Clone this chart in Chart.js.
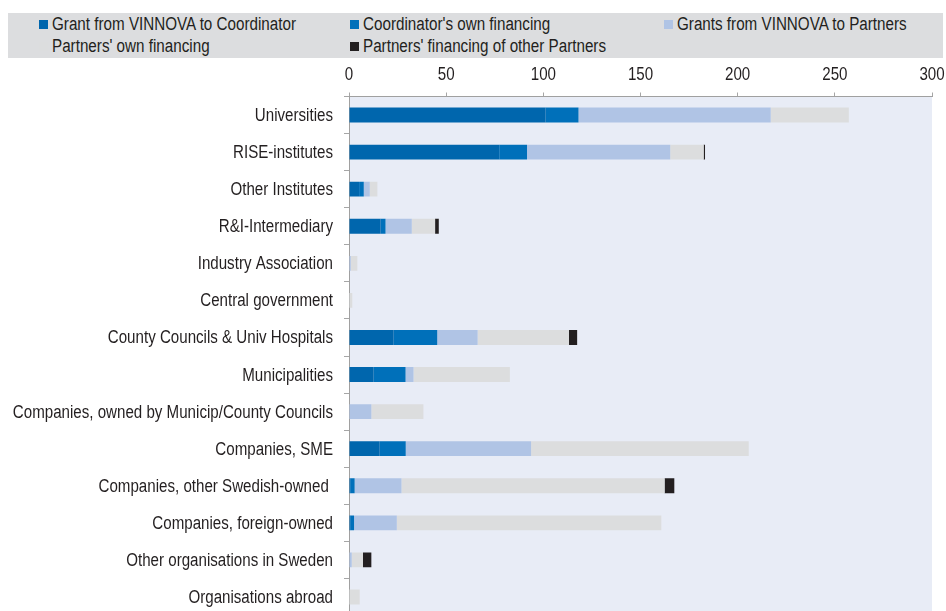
<!DOCTYPE html>
<html>
<head>
<meta charset="utf-8">
<script src="https://cdn.jsdelivr.net/npm/chart.js@4/dist/chart.umd.min.js"></script>
<style>
  html, body { margin: 0; padding: 0; background: #fff; overflow: hidden; }
  #wrap { position: relative; width: 946px; height: 611px; }
  #chart { position: absolute; left: 0; top: 0; }
  #legend {
    position: absolute; left: 8px; top: 13px; width: 935px; height: 45px;
    background: #DCDDDF;
    font-family: "Liberation Sans", Arial, sans-serif;
    font-size: 18px; color: #231F20;
  }
  .item { position: absolute; white-space: nowrap; line-height: 20px; height: 20px; }
  .item i { position: absolute; left: 0; top: 6px; width: 9px; height: 9px; }
  /* narrow face is not installed, so squeeze the regular one */
  .item span {
    position: absolute; left: 13px; top: 0;
    display: inline-block; transform: scaleX(0.845); transform-origin: 0 50%;
  }
</style>
</head>
<body>
<div id="wrap">
  <canvas id="chart" width="946" height="616"></canvas>
  <div id="legend"></div>
</div>
<script>
const categories = [
  'Universities',
  'RISE-institutes',
  'Other Institutes',
  'R&I-Intermediary',
  'Industry Association',
  'Central government',
  'County Councils & Univ Hospitals',
  'Municipalities',
  'Companies, owned by Municip/County Councils',
  'Companies, SME',
  'Companies, other Swedish-owned ',
  'Companies, foreign-owned',
  'Other organisations in Sweden',
  'Organisations abroad'
];

// MSEK per actor type, stacked left to right
const grantToCoordinator = [101.2, 77.3, 5.2, 16.3, 0, 0, 23.0, 12.7, 0, 15.8, 0.6, 0.6, 0, 0];
const coordinatorOwn     = [16.9, 14.3, 2.4, 2.5, 0, 0, 22.4, 16.4, 0, 13.4, 2.3, 2.0, 0, 0];
const grantsToPartners   = [98.9, 73.7, 3.1, 13.5, 0.9, 0, 20.8, 4.1, 11.5, 64.5, 24.1, 22.0, 1.4, 0];
const partnersOwn        = [40.2, 17.2, 3.9, 12.0, 3.4, 1.7, 47.0, 49.6, 26.8, 112.0, 135.4, 136.1, 5.8, 5.5];
const partnersOfOthers   = [0, 0.7, 0, 1.9, 0, 0, 4.2, 0, 0, 0, 5.0, 0, 4.3, 0];

const xTicks = [0, 50, 100, 150, 200, 250, 300];

const seriesNames = [
  'Grant from VINNOVA to Coordinator',
  "Coordinator's own financing",
  'Grants from VINNOVA to Partners',
  "Partners' own financing",
  "Partners' financing of other Partners"
];
const seriesColors = ['#0066AD', '#0070BA', '#B0C4E5', '#DCDDDE', '#231F20'];
const seriesData = [grantToCoordinator, coordinatorOwn, grantsToPartners, partnersOwn, partnersOfOthers];

// legend slots inside the grey band: [left, top]
const legendSlots = [[31, 1], [342, 1], [656, 1], [31, 23], [342, 23]];

const legend = document.getElementById('legend');
seriesNames.forEach((name, i) => {
  const el = document.createElement('div');
  el.className = 'item';
  el.style.left = legendSlots[i][0] + 'px';
  el.style.top = legendSlots[i][1] + 'px';
  const box = document.createElement('i');
  box.style.background = seriesColors[i];
  const txt = document.createElement('span');
  txt.textContent = name;
  el.appendChild(box);
  el.appendChild(txt);
  legend.appendChild(el);
});

const FONT = "18px 'Liberation Sans', Arial, sans-serif";
const SQUEEZE = 0.84;
const TEXT_COLOR = '#231F20';

const plotBackground = {
  id: 'plotBackground',
  beforeDraw(chart) {
    const { ctx, chartArea: a } = chart;
    ctx.save();
    ctx.fillStyle = '#E8ECF6';
    ctx.fillRect(a.left, a.top, a.right - a.left, a.bottom - a.top);
    ctx.restore();
  }
};

// tick labels drawn condensed at the scales' own pixel positions
function squeezedText(ctx, text, x, y, align) {
  ctx.save();
  ctx.translate(x, y);
  ctx.scale(SQUEEZE, 1);
  ctx.textAlign = align;
  ctx.fillText(text, 0, 0);
  ctx.restore();
}

const narrowTickLabels = {
  id: 'narrowTickLabels',
  afterDraw(chart) {
    const { ctx, scales } = chart;
    ctx.save();
    ctx.font = FONT;
    ctx.fillStyle = TEXT_COLOR;
    ctx.textBaseline = 'middle';
    categories.forEach((c, i) => {
      squeezedText(ctx, c, scales.y.left + 333, scales.y.getPixelForTick(i) + 1, 'right');
    });
    xTicks.forEach(v => {
      squeezedText(ctx, String(v), scales.x.getPixelForValue(v), 75, 'center');
    });
    ctx.restore();
  }
};

new Chart(document.getElementById('chart'), {
  type: 'bar',
  data: {
    labels: categories,
    datasets: seriesData.map((d, i) => ({
      label: seriesNames[i],
      data: d,
      backgroundColor: seriesColors[i],
      borderWidth: 0,
      barPercentage: 0.4,
      categoryPercentage: 1
    }))
  },
  options: {
    indexAxis: 'y',
    responsive: false,
    animation: false,
    layout: { padding: { left: 0, right: 14, top: 0, bottom: 0.5 } },
    plugins: { legend: { display: false }, tooltip: { enabled: false } },
    scales: {
      x: {
        position: 'top',
        stacked: true,
        min: 0,
        max: 300,
        afterBuildTicks(scale) { scale.ticks = xTicks.map(v => ({ value: v })); },
        afterFit(scale) {
          scale.height = 96.5;
          scale.paddingLeft = scale.paddingRight = 0;
        },
        grid: { drawOnChartArea: false, drawTicks: true, tickLength: 4, color: '#A6A6A6' },
        border: { display: true, color: '#A0A0A0', width: 1 },
        ticks: { display: false }
      },
      y: {
        stacked: true,
        afterFit(scale) {
          scale.width = 349;
          scale.paddingTop = scale.paddingBottom = 0;
        },
        grid: { offset: true, drawOnChartArea: false, drawTicks: true, tickLength: 5, color: '#A6A6A6' },
        border: { display: true, color: '#A0A0A0', width: 1 },
        ticks: { display: false }
      }
    }
  },
  plugins: [plotBackground, narrowTickLabels]
});
</script>
</body>
</html>
